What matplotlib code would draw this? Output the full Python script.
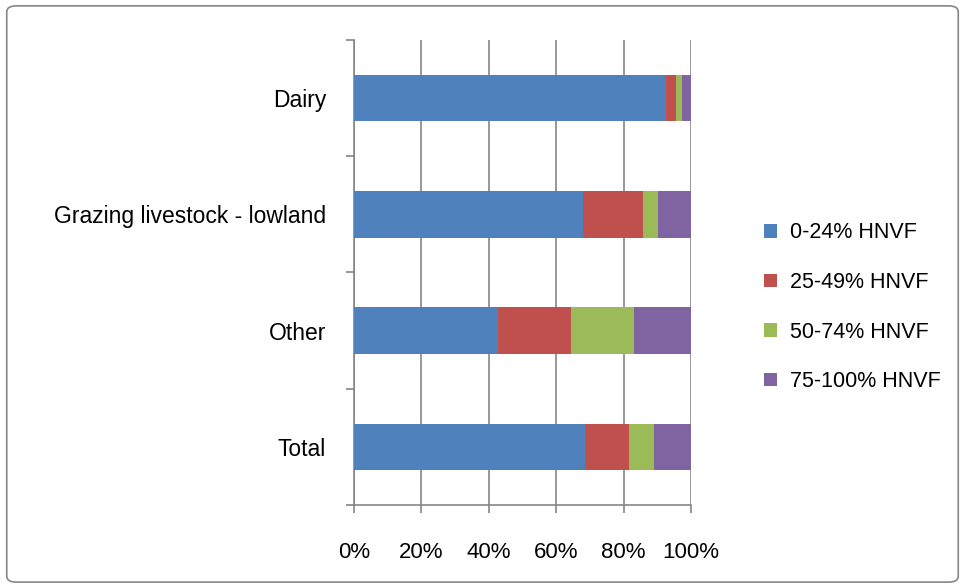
import matplotlib
matplotlib.use("Agg")
import matplotlib.pyplot as plt
import numpy as np
from matplotlib.patches import FancyBboxPatch

categories = ['Dairy', 'Grazing livestock - lowland', 'Other', 'Total']
series_names = ['0-24% HNVF', '25-49% HNVF', '50-74% HNVF', '75-100% HNVF']
v_0_24 = [92.5, 68.1, 42.8, 68.7]
v_25_49 = [3.0, 17.8, 21.7, 12.9]
v_50_74 = [1.8, 4.2, 18.5, 7.4]
v_75_100 = [2.7, 9.9, 17.0, 11.0]
colors = ['#4F81BD', '#C0504D', '#9BBB59', '#8064A2']
xticks = [0, 20, 40, 60, 80, 100]

plt.rcParams['font.family'] = ['Liberation Sans', 'DejaVu Sans']
fig = plt.figure(figsize=(9.65, 5.88), dpi=100)
ax = fig.add_axes([0.3668, 0.1412, 0.3492, 0.791])

border = FancyBboxPatch((0.007, 0.01), 0.986, 0.98, boxstyle='round,pad=0,rounding_size=0.01',
                        transform=fig.transFigure, facecolor='none', edgecolor='#868686', linewidth=1.2)
fig.patches.append(border)

y = np.arange(len(categories))
left = np.zeros(len(categories))
for vals, name, c in zip([v_0_24, v_25_49, v_50_74, v_75_100], series_names, colors):
    ax.barh(y, vals, left=left, height=0.4, color=c, label=name, zorder=3)
    left += np.array(vals)

ax.set_xlim(0, 100)
ax.set_ylim(3.5, -0.5)
ax.set_xticks(xticks)
ax.set_xticklabels([f'{t}%' for t in xticks], fontsize=16)
ax.set_yticks(np.arange(-0.5, 4, 1))
ax.set_yticklabels([])
ax.set_yticks(y, minor=True)
ax.set_yticklabels(categories, minor=True, fontsize=16.5)
ax.tick_params(axis='y', which='minor', length=0, pad=20)
ax.tick_params(axis='y', which='major', length=6, color='#868686', width=1.2)
ax.tick_params(axis='x', length=6, color='#868686', width=1.2, pad=21)
ax.grid(axis='x', color='#868686', linewidth=1.2, zorder=0)
for s in ['top', 'right']:
    ax.spines[s].set_visible(False)
for s in ['left', 'bottom']:
    ax.spines[s].set_color('#868686')
    ax.spines[s].set_linewidth(1.2)

ax.legend(loc='center left', bbox_to_anchor=(1.16, 0.425), frameon=False, fontsize=15.5,
          handlelength=0.6, handleheight=0.6, handletextpad=0.6, labelspacing=1.33)

fig.savefig('out.png', dpi=100)
